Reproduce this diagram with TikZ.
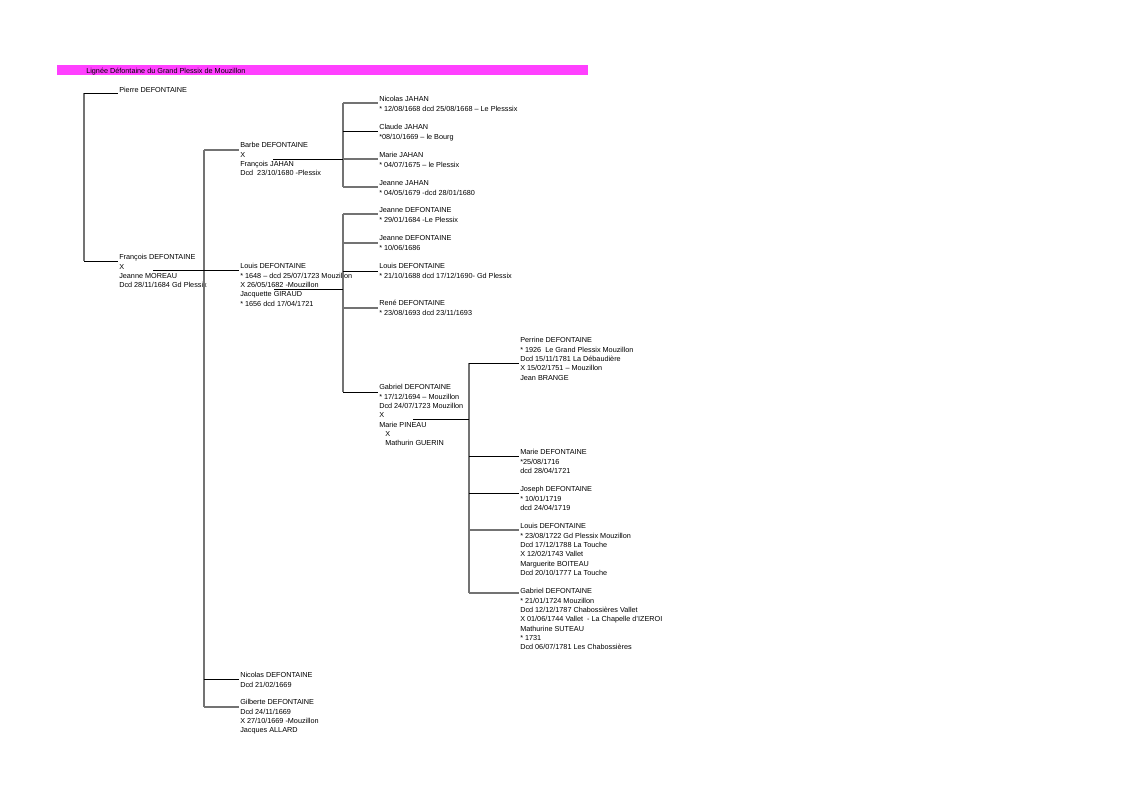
\documentclass[tikz,border=0pt]{standalone}
\usepackage{fontspec}
\setmainfont{Liberation Sans}
\usetikzlibrary{calc}
\definecolor{titlemag}{HTML}{FF40FF}
\newcommand{\topstrut}{\rule{0pt}{5.65pt}}
\begin{document}
\begin{tikzpicture}[x=0.75pt,y=-0.75pt,
  txt/.style={anchor=north west,inner sep=0pt,align=left,font=\fontsize{5.45}{7}\selectfont},
  lg/.style={draw=black!55,line width=0.9pt},
  lk/.style={draw=black,line width=0.6pt}]
\useasboundingbox (0,0) rectangle (1123,794);
% title
\fill[titlemag] (57,65) rectangle (588,75);
\node[txt] (title) at (86,66) {\topstrut Lignée Défontaine du Grand Plessix de Mouzillon};
% generation 1
\node[txt] (pierre) at (119,85) {\topstrut Pierre DEFONTAINE};
\node[txt] (francois) at (119,252) {\topstrut François DEFONTAINE\\X\\Jeanne MOREAU\\Dcd 28/11/1684 Gd Plessix};
% generation 2
\node[txt] (barbe) at (240,140) {\topstrut Barbe DEFONTAINE\\X\\François JAHAN\\Dcd\ \ 23/10/1680 -Plessix};
\node[txt] (louis) at (240,261) {\topstrut Louis DEFONTAINE\\* 1648 – dcd 25/07/1723 Mouzillon\\X 26/05/1682 -Mouzillon\\Jacquette GIRAUD\\* 1656 dcd 17/04/1721};
\node[txt] (nicolasD) at (240,670) {\topstrut Nicolas DEFONTAINE\\Dcd 21/02/1669};
\node[txt] (gilberte) at (240,697) {\topstrut Gilberte DEFONTAINE\\Dcd 24/11/1669\\X 27/10/1669 -Mouzillon\\Jacques ALLARD};
% JAHAN children
\node[txt] (nicolasJ) at (379,94) {\topstrut Nicolas JAHAN\\* 12/08/1668 dcd 25/08/1668 – Le Plesssix};
\node[txt] (claudeJ) at (379,122) {\topstrut Claude JAHAN\\*08/10/1669 – le Bourg};
\node[txt] (marieJ) at (379,150) {\topstrut Marie JAHAN\\* 04/07/1675 – le Plessix};
\node[txt] (jeanneJ) at (379,178) {\topstrut Jeanne JAHAN\\* 04/05/1679 -dcd 28/01/1680};
% Louis' children
\node[txt] (jeanneA) at (379,205) {\topstrut Jeanne DEFONTAINE\\* 29/01/1684 -Le Plessix};
\node[txt] (jeanneB) at (379,233) {\topstrut Jeanne DEFONTAINE\\* 10/06/1686};
\node[txt] (louisB) at (379,261) {\topstrut Louis DEFONTAINE\\* 21/10/1688 dcd 17/12/1690- Gd Plessix};
\node[txt] (rene) at (379,298) {\topstrut René DEFONTAINE\\* 23/08/1693 dcd 23/11/1693};
\node[txt] (gabriel) at (379,382) {\topstrut Gabriel DEFONTAINE\\* 17/12/1694 – Mouzillon\\Dcd 24/07/1723 Mouzillon\\X\\Marie PINEAU\\\hspace{4.5pt}X\\\hspace{4.5pt}Mathurin GUERIN};
% Gabriel's children
\node[txt] (perrine) at (520,335) {\topstrut Perrine DEFONTAINE\\* 1926\ \ Le Grand Plessix Mouzillon\\Dcd 15/11/1781 La Débaudière\\X 15/02/1751 – Mouzillon\\Jean BRANGE};
\node[txt] (marieD) at (520,447) {\topstrut Marie DEFONTAINE\\*25/08/1716\\dcd 28/04/1721};
\node[txt] (joseph) at (520,484) {\topstrut Joseph DEFONTAINE\\* 10/01/1719\\dcd 24/04/1719};
\node[txt] (louisC) at (520,521) {\topstrut Louis DEFONTAINE\\* 23/08/1722 Gd Plessix Mouzillon\\Dcd 17/12/1788 La Touche\\X 12/02/1743 Vallet\\Marguerite BOITEAU\\Dcd 20/10/1777 La Touche};
\node[txt] (gabrielB) at (520,586) {\topstrut Gabriel DEFONTAINE\\* 21/01/1724 Mouzillon\\Dcd 12/12/1787 Chabossières Vallet\\X 01/06/1744 Vallet\ \ - La Chapelle d'IZEROI\\Mathurine SUTEAU\\* 1731\\Dcd 06/07/1781 Les Chabossières};
% bus positions
\coordinate (busA) at (84,0);
\coordinate (busB) at (204,0);
\coordinate (busC) at (343,0);
\coordinate (busE) at (469,0);
% connection points
\coordinate (pierre-c) at ([shift={(-1,8)}]pierre.north west);
\coordinate (francois-c) at ([shift={(-1,9)}]francois.north west);
\coordinate (barbe-c) at ([shift={(-1,10)}]barbe.north west);
\coordinate (louis-c) at ([shift={(-1,9)}]louis.north west);
\coordinate (nicolasD-c) at ([shift={(-1,9)}]nicolasD.north west);
\coordinate (gilberte-c) at ([shift={(-1,10)}]gilberte.north west);
\coordinate (nicolasJ-c) at ([shift={(-1,9)}]nicolasJ.north west);
\coordinate (claudeJ-c) at ([shift={(-1,9)}]claudeJ.north west);
\coordinate (marieJ-c) at ([shift={(-1,9)}]marieJ.north west);
\coordinate (jeanneJ-c) at ([shift={(-1,9)}]jeanneJ.north west);
\coordinate (jeanneA-c) at ([shift={(-1,9)}]jeanneA.north west);
\coordinate (jeanneB-c) at ([shift={(-1,10)}]jeanneB.north west);
\coordinate (louisB-c) at ([shift={(-1,10)}]louisB.north west);
\coordinate (rene-c) at ([shift={(-1,10)}]rene.north west);
\coordinate (gabriel-c) at ([shift={(-1,10)}]gabriel.north west);
\coordinate (perrine-c) at ([shift={(-1,28)}]perrine.north west);
\coordinate (marieD-c) at ([shift={(-1,9)}]marieD.north west);
\coordinate (joseph-c) at ([shift={(-1,9)}]joseph.north west);
\coordinate (louisC-c) at ([shift={(-1,9)}]louisC.north west);
\coordinate (gabrielB-c) at ([shift={(-1,7)}]gabrielB.north west);
% couple points
\coordinate (francois-s) at ([shift={(34,18)}]francois.north west);
\coordinate (barbe-s) at ([shift={(33,19)}]barbe.north west);
\coordinate (louis-s) at ([shift={(34,28)}]louis.north west);
\coordinate (gabriel-s) at ([shift={(34,37)}]gabriel.north west);
% Pierre -> François
\draw[lg] (pierre-c -| busA) -- (francois-c -| busA);
\draw[lk] (pierre-c -| busA) -- (pierre-c);
\draw[lk] (francois-c -| busA) -- (francois-c);
% François x Jeanne MOREAU -> children
\draw[lg] (barbe-c -| busB) -- (gilberte-c -| busB);
\draw[lg] (barbe-c -| busB) -- (barbe-c);
\draw[lk] (francois-s) -- (louis-c);
\draw[lk] (nicolasD-c -| busB) -- (nicolasD-c);
\draw[lg] (gilberte-c -| busB) -- (gilberte-c);
% Barbe x François JAHAN -> children
\draw[lg] (nicolasJ-c -| busC) -- (jeanneJ-c -| busC);
\draw[lk] (barbe-s) -- (barbe-s -| busC);
\draw[lg] (nicolasJ-c -| busC) -- (nicolasJ-c);
\draw[lk] (claudeJ-c -| busC) -- (claudeJ-c);
\draw[lg] (marieJ-c -| busC) -- (marieJ-c);
\draw[lg] (jeanneJ-c -| busC) -- (jeanneJ-c);
% Louis x Jacquette GIRAUD -> children
\draw[lg] (jeanneA-c -| busC) -- (gabriel-c -| busC);
\draw[lk] (louis-s) -- (louis-s -| busC);
\draw[lg] (jeanneA-c -| busC) -- (jeanneA-c);
\draw[lg] (jeanneB-c -| busC) -- (jeanneB-c);
\draw[lk] (louisB-c -| busC) -- (louisB-c);
\draw[lg] (rene-c -| busC) -- (rene-c);
\draw[lk] (gabriel-c -| busC) -- (gabriel-c);
% Gabriel x Marie PINEAU -> children
\draw[lg] (perrine-c -| busE) -- (gabrielB-c -| busE);
\draw[lk] (gabriel-s) -- (gabriel-s -| busE);
\draw[lk] (perrine-c -| busE) -- (perrine-c);
\draw[lk] (marieD-c -| busE) -- (marieD-c);
\draw[lk] (joseph-c -| busE) -- (joseph-c);
\draw[lg] (louisC-c -| busE) -- (louisC-c);
\draw[lg] (gabrielB-c -| busE) -- (gabrielB-c);
\end{tikzpicture}
\end{document}
